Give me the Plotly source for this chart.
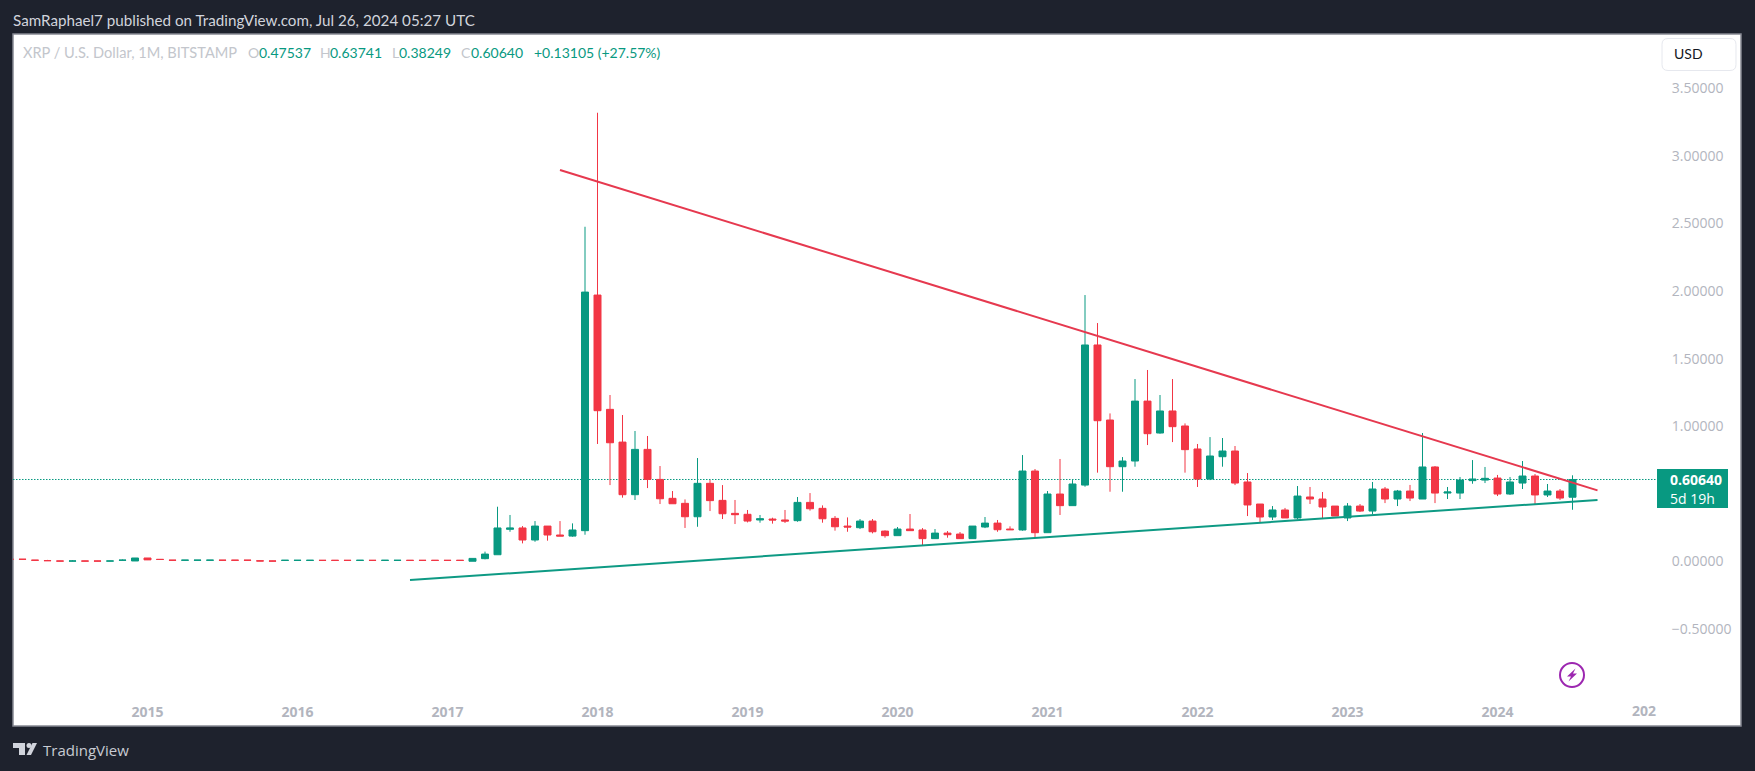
import plotly.graph_objects as go

months = []
for _y in range(2014, 2025):
    for _m in range(1, 13):
        _s = f"{_y}-{_m:02d}"
        if "2014-02" <= _s <= "2024-09":
            months.append(_s)

# Monthly XRP/USD candles, Feb 2014 .. Jul 2024
opens = [
    .017, .017, .010, .007, .004, .003, .004, .004, .003, .009, .004,
    .026, .016, .010, .009, .009, .009, .010, .010, .010, .005, .004, .008,
    .008, .008, .009, .009, .009, .008, .009, .008, .008, .009, .009, .009,
    .009, .009,
    .002, .021, .050, .238, .248, .159, .262, .196, .188, .228,
    1.970, 1.125, .883, .494, .829, .607, .467, .430, .331, .578, .452, .356,
    .349, .307, .314, .307, .302, .437, .393, .319, .262, .250, .299, .225,
    .191, .240, .233, .169, .210, .203, .169, .255, .284, .240, .233, .669,
    .213, .499, .413, .565, 1.601, 1.046, .701, .743, 1.186, .950, 1.113, 1.002,
    .832, .610, .775, .817, .588, .425, .329, .381, .322, .477, .462, .410,
    .322, .410, .373, .536, .462, .521, .462, .699, .506, .506, .598, .602,
    .617, .499, .580, .632, .492, .521, .47537,
]
highs = [
    .018, .018, .011, .012, .005, .009, .005, .005, .005, .015, .026,
    .026, .017, .011, .011, .011, .011, .011, .011, .011, .006, .005, .010,
    .010, .010, .010, .010, .010, .010, .010, .010, .010, .010, .010, .010,
    .010, .010,
    .023, .073, .405, .344, .262, .299, .262, .299, .282, 2.475,
    3.318, 1.231, 1.083, .965, .928, .706, .521, .459, .765, .602, .565, .455,
    .381, .344, .324, .381, .477, .506, .415, .336, .326, .314, .314, .230,
    .255, .351, .247, .240, .225, .218, .262, .329, .307, .260, .787, .684,
    .521, .758, .602, 1.970, 1.763, 1.095, .772, 1.349, 1.416, 1.231, 1.349, 1.021,
    .869, .920, .913, .854, .654, .425, .410, .396, .558, .551, .514, .410,
    .432, .425, .588, .551, .529, .566, .950, .706, .551, .625, .750, .699,
    .640, .625, .743, .647, .573, .536, .63741,
]
lows = [
    .015, .015, .008, .005, .002, .002, .002, .002, .002, .008, .004,
    .011, .014, .008, .008, .008, .008, .008, .008, .008, .003, .002, .007,
    .007, .007, .007, .007, .007, .007, .007, .007, .007, .007, .007, .007,
    .007, .007,
    .002, .016, .050, .220, .134, .146, .154, .188, .183, .198,
    .869, .565, .472, .455, .543, .425, .427, .248, .257, .373, .314, .277,
    .289, .287, .280, .285, .294, .376, .287, .228, .220, .240, .208, .176,
    .191, .228, .117, .169, .176, .169, .169, .247, .220, .235, .228, .176,
    .213, .344, .413, .553, .657, .516, .516, .701, .861, .945, .883, .657,
    .551, .602, .701, .565, .336, .287, .307, .322, .312, .425, .314, .336,
    .299, .366, .349, .432, .410, .447, .462, .432, .462, .462, .575, .580,
    .484, .492, .536, .423, .477, .455, .38249,
]
closes = [
    .016, .016, .009, .006, .003, .004, .003, .003, .004, .010, .026,
    .012, .015, .009, .010, .010, .010, .009, .009, .009, .004, .003, .009,
    .009, .009, .008, .008, .008, .009, .008, .009, .009, .008, .008, .008,
    .008, .008,
    .023, .055, .248, .248, .159, .262, .196, .188, .233, 1.992,
    1.115, .878, .494, .829, .607, .464, .427, .331, .578, .450, .353, .346,
    .299, .316, .307, .299, .437, .390, .316, .257, .255, .299, .220, .191,
    .240, .228, .169, .210, .198, .169, .262, .284, .235, .235, .669, .213,
    .499, .413, .573, 1.601, 1.041, .701, .743, 1.186, .945, 1.113, .997, .827,
    .610, .780, .817, .580, .418, .329, .381, .322, .484, .462, .403, .336,
    .410, .373, .536, .462, .521, .469, .699, .506, .514, .602, .610, .615,
    .499, .588, .632, .492, .521, .469, .60640,
]

red_line_x = ["2017-10", "2024-09"]
red_line_y = [2.895, 0.526]
green_line_x = ["2016-10", "2024-09"]
green_line_y = [-0.137, 0.455]
last_price = 0.6064

price_ticks = [3.5, 3.0, 2.5, 2.0, 1.5, 1.0, 0.0, -0.5]
price_labels = ["3.50000", "3.00000", "2.50000", "2.00000", "1.50000",
                "1.00000", "0.00000", "\u22120.50000"]
year_ticks = ["2015-01", "2016-01", "2017-01", "2018-01", "2019-01",
              "2020-01", "2021-01", "2022-01", "2023-01", "2024-01"]
year_labels = ["2015", "2016", "2017", "2018", "2019", "2020", "2021", "2022", "2023", "2024"]

W, H = 1755, 771
L, R, T, B = 13, 1656, 34, 695
GREEN, RED = "#089981", "#f23645"
DARK = "#1e222d"
LATO = "Lato, sans-serif"
OPEN = "Open Sans, sans-serif"


def px(x):
    return (x - L) / (R - L)


def py(y):
    return (B - y) / (B - T)


def rect(x0, y0, x1, y1, fill, line=None, lw=0):
    return dict(type="rect", xref="paper", yref="paper", layer="below",
                x0=px(x0), x1=px(x1), y0=py(y1), y1=py(y0),
                fillcolor=fill, line=dict(color=line or fill, width=lw))


def poly(points, fill):
    d = "M " + " L ".join(f"{px(a):.6f},{py(b):.6f}" for a, b in points) + " Z"
    return dict(type="path", xref="paper", yref="paper", layer="above", path=d,
                fillcolor=fill, line=dict(width=0))


def rounded(x0, y0, x1, y1, r, fill, line):
    P = lambda a, b: f"{px(a):.6f},{py(b):.6f}"
    d = (f"M {P(x0 + r, y0)} L {P(x1 - r, y0)} Q {P(x1, y0)} {P(x1, y0 + r)} "
         f"L {P(x1, y1 - r)} Q {P(x1, y1)} {P(x1 - r, y1)} L {P(x0 + r, y1)} "
         f"Q {P(x0, y1)} {P(x0, y1 - r)} L {P(x0, y0 + r)} Q {P(x0, y0)} {P(x0 + r, y0)} Z")
    return dict(type="path", xref="paper", yref="paper", layer="above", path=d,
                fillcolor=fill, line=dict(color=line, width=1))


def text(x, y, s, size, color, family=LATO, bold=False):
    return dict(xref="paper", yref="paper", x=px(x), y=py(y), text=f"<b>{s}</b>" if bold else s,
                showarrow=False, xanchor="left", yanchor="middle", borderpad=0,
                font=dict(size=size, color=color, family=family))


fig = go.Figure()
fig.add_trace(go.Candlestick(
    x=months[:len(opens)], open=opens, high=highs, low=lows, close=closes,
    increasing=dict(line=dict(color=GREEN, width=1), fillcolor=GREEN),
    decreasing=dict(line=dict(color=RED, width=1), fillcolor=RED),
    whiskerwidth=0, showlegend=False, hoverinfo="skip"))
fig.add_trace(go.Scatter(x=red_line_x, y=red_line_y, mode="lines", hoverinfo="skip",
                         line=dict(color="#e6394f", width=2), showlegend=False))
fig.add_trace(go.Scatter(x=green_line_x, y=green_line_y, mode="lines", hoverinfo="skip",
                         line=dict(color="#0e9a84", width=2), showlegend=False))

shapes = [
    rect(13, 34, 1741, 726, "#ffffff", "#868993", 1.5),
    dict(type="line", xref="paper", yref="y", layer="below", x0=0, x1=1,
         y0=last_price, y1=last_price, line=dict(color=GREEN, width=1, dash="1.5px,1.5px")),
    rect(1657, 469, 1728, 508, GREEN),
    rounded(1662, 38.5, 1736, 70.5, 6, "#ffffff", "#e6e8ee"),
    dict(type="circle", xref="paper", yref="paper", layer="above",
         x0=px(1560), x1=px(1584), y0=py(687), y1=py(663),
         line=dict(color="#9c27b0", width=2), fillcolor="rgba(0,0,0,0)"),
    poly([(1575.5, 668.5), (1567, 676.5), (1571, 676.5), (1568.5, 681.5),
          (1577, 673.5), (1573, 673.5)], "#9c27b0"),
    poly([(13, 743), (25, 743), (25, 755), (19, 755), (19, 748), (13, 748)], "#d1d4dc"),
    poly([(32.5, 743), (37, 743), (31, 755), (26.5, 755)], "#d1d4dc"),
    dict(type="circle", xref="paper", yref="paper", layer="above",
         x0=px(26.5), x1=px(31.5), y0=py(748), y1=py(743),
         fillcolor="#d1d4dc", line=dict(width=0)),
]

LEG = "#c3c6cc"
annotations = [
    text(12, 20, "SamRaphael7 published on TradingView.com, Jul 26, 2024 05:27 UTC", 15.2, "#d1d4dc"),
    text(22, 53, "XRP / U.S. Dollar, 1M, BITSTAMP", 14.6, LEG),
    text(247, 53, "O", 14, LEG), text(258, 53, "0.47537", 14, GREEN),
    text(319, 53, "H", 14, LEG), text(329, 53, "0.63741", 14, GREEN),
    text(391, 53, "L", 14, LEG), text(398, 53, "0.38249", 14, GREEN),
    text(460, 53, "C", 14, LEG), text(470, 53, "0.60640", 14, GREEN),
    text(533, 53, "+0.13105 (+27.57%)", 14, GREEN),
    text(1673, 54, "USD", 14, "#131722"),
    text(1669, 480, "0.60640", 14, "#ffffff", OPEN, True),
    text(1669, 498, "5d 19h", 14, "#ffffff", OPEN),
    text(1631, 710, "202", 14, "#b2b5be", OPEN, True),
    text(42, 750, "TradingView", 15, "#c8cbd3", OPEN),
]

fig.update_layout(
    width=W, height=H, autosize=False,
    margin=dict(l=L, r=W - R, t=T, b=H - B, pad=0),
    paper_bgcolor=DARK, plot_bgcolor="rgba(0,0,0,0)",
    boxgap=0.2, showlegend=False, hovermode=False,
    shapes=shapes, annotations=annotations,
    xaxis=dict(type="category", categoryorder="array", categoryarray=months,
               range=[0.24, 131.68], autorange=False, rangeslider=dict(visible=False),
               tickmode="array", tickvals=year_ticks, ticktext=year_labels,
               ticks="outside", ticklen=4, tickcolor="rgba(0,0,0,0)",
               tickangle=0, showgrid=False, zeroline=False, showline=False,
               tickfont=dict(family=OPEN, size=14, color="#b2b5be", weight="bold")),
    yaxis=dict(side="right", range=[-0.987, 3.9002], autorange=False,
               tickmode="array", tickvals=price_ticks, ticktext=price_labels,
               ticks="outside", ticklen=12, tickcolor="rgba(0,0,0,0)",
               showgrid=False, zeroline=False, showline=False,
               tickfont=dict(family=OPEN, size=14, color="#b2b5be")),
)

fig.write_html("out.html", config=dict(displayModeBar=False),
               post_script="document.body.style.margin='0';document.body.style.overflow='hidden';")
